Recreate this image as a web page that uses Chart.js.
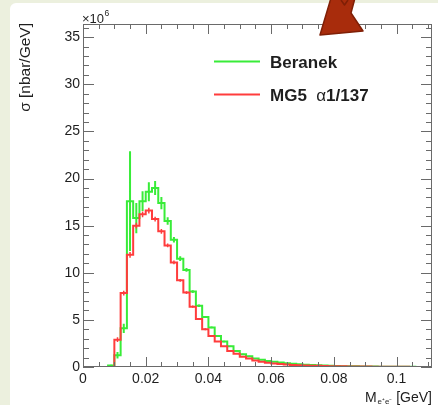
<!DOCTYPE html>
<html>
<head>
<meta charset="utf-8">
<script src="https://cdn.jsdelivr.net/npm/chart.js@4.4.1/dist/chart.umd.min.js"></script>
<style>
  html, body { margin: 0; padding: 0; background: #ecf0de; }
  #wrap { position: relative; width: 438px; height: 405px; overflow: hidden; }
  #sheet { position: absolute; left: 10px; top: 3px; right: 0; bottom: 0; background: #fff; border-top-left-radius: 6px; }
  #plot { position: absolute; left: 0; top: 0; }
</style>
</head>
<body>
<div id="wrap">
  <div id="sheet"></div>
  <canvas id="plot" width="438" height="405"></canvas>
</div>
<script>
// M(e+e-) spectrum, 0.002 GeV bins from 0, sigma in units of 1e6 nbar/GeV
const binWidth = 0.002;

const beranek = [
  0, 0, 0, 0, 0.15, 1.25, 4.1, 17.6, 15.8, 17.6,
  18.6, 19.0, 17.4, 15.5, 13.5, 11.5, 10.3, 8.0, 6.5, 5.3,
  4.2, 3.3, 2.7, 2.2, 1.7, 1.35, 1.15, 0.9, 0.77, 0.65,
  0.55, 0.47, 0.4, 0.34, 0.29, 0.25, 0.21, 0.18, 0.15, 0.13,
  0.11, 0.09, 0.08, 0.07, 0.06, 0.05, 0.04, 0.035, 0.03, 0.025,
  0.02, 0.018, 0.015, 0.012, 0.01, 0.008
];
const beranekErr = [
  0, 0, 0, 0, 0.1, 0.35, 0.5, 5.3, 1.6, 1.05,
  1.0, 0.75, 0.65, 0.4, 0.3, 0.25, 0.2, 0.15, 0.12, 0.1,
  0.1, 0.08, 0.08, 0.06, 0.05, 0.05, 0.04, 0.04, 0.03, 0.03
];

const mg5 = [
  0, 0, 0, 0, 0, 2.9, 7.85, 11.9, 15.0, 16.2,
  16.6, 15.7, 14.4, 12.9, 11.1, 9.2, 7.9, 6.4, 5.1, 4.0,
  3.3, 2.7, 2.2, 1.7, 1.4, 1.1, 0.9, 0.7, 0.55, 0.45,
  0.38, 0.32, 0.27, 0.22, 0.19, 0.16, 0.14, 0.12, 0.1, 0.09,
  0.08, 0.07, 0.06, 0.05, 0.045, 0.04, 0.035, 0.03, 0.03, 0.025,
  0.02, 0.015, 0.012, 0.01, 0.008, 0.006
];
const mg5Err = [
  0, 0, 0, 0, 0, 0.25, 0.25, 0.3, 0.3, 0.3,
  0.3, 0.25, 0.25, 0.2, 0.2, 0.15, 0.15, 0.12, 0.1, 0.1
];

const xTickLabels = ['0', '0.02', '0.04', '0.06', '0.08', '0.1'];
const yTickLabels = ['0', '5', '10', '15', '20', '25', '30', '35'];

const xMax = 0.1113;
const yMax = 36.4;
const FONT = '"Liberation Sans", Arial, Helvetica, sans-serif';
const GREEN = '#38ec38';
const RED = '#ff3c3c';

// step outline: one point per left bin edge, plus the closing right edge
function histPoints(vals) {
  const pts = vals.map((v, i) => ({ x: i * binWidth, y: v }));
  pts.push({ x: vals.length * binWidth, y: vals[vals.length - 1] });
  return pts;
}

// vertical error bars at bin centres, separated by gaps
function errPoints(vals, errs) {
  const pts = [];
  errs.forEach((e, i) => {
    if (!e) return;
    const c = (i + 0.5) * binWidth;
    pts.push({ x: c, y: Math.max(0, vals[i] - e) }, { x: c, y: vals[i] + e }, { x: c, y: null });
  });
  return pts;
}

const rootFrame = {
  id: 'rootFrame',
  afterDatasetsDraw(chart) {
    const { ctx, chartArea: a, scales } = chart;
    const xs = scales.x, ys = scales.y;
    ctx.save();

    // frame and inward ticks on all four sides
    ctx.strokeStyle = '#6a6a6a';
    ctx.lineWidth = 1;
    ctx.strokeRect(a.left + 0.5, a.top + 0.5, a.right - a.left - 1, a.bottom - a.top - 1);
    ctx.beginPath();
    for (let k = 0; k * 0.005 <= xMax; k++) {
      const px = Math.round(xs.getPixelForValue(k * 0.005)) + 0.5;
      const len = k % 4 === 0 ? 10 : 5;
      ctx.moveTo(px, a.bottom); ctx.lineTo(px, a.bottom - len);
      ctx.moveTo(px, a.top); ctx.lineTo(px, a.top + len);
    }
    for (let k = 0; k <= yMax; k++) {
      const py = Math.round(ys.getPixelForValue(k)) + 0.5;
      const len = k % 5 === 0 ? 11 : 6;
      ctx.moveTo(a.left, py); ctx.lineTo(a.left + len, py);
      ctx.moveTo(a.right, py); ctx.lineTo(a.right - len, py);
    }
    ctx.stroke();

    ctx.fillStyle = '#1e1e1e';
    ctx.textAlign = 'left';
    ctx.textBaseline = 'alphabetic';

    // exponent above the y axis
    ctx.font = '13px ' + FONT;
    ctx.fillText('\u00d710', a.left - 1, 23);
    const w10 = ctx.measureText('\u00d710').width;
    ctx.font = '8.5px ' + FONT;
    ctx.fillText('6', a.left - 1 + w10 + 0.5, 16);

    // y title, top aligned
    ctx.save();
    ctx.translate(30, a.top - 1);
    ctx.rotate(-Math.PI / 2);
    ctx.textAlign = 'right';
    ctx.font = '15.5px ' + FONT;
    ctx.fillText('\u03c3 [nbar/GeV]', 0, 0);
    ctx.restore();

    // x title, right aligned
    ctx.font = '14px ' + FONT;
    ctx.fillText('M', 365, 401.5);
    ctx.font = '8px ' + FONT;
    ctx.fillText('e\u207ae\u207b', 377.5, 404);
    ctx.font = '14px ' + FONT;
    ctx.textAlign = 'right';
    ctx.fillText('[GeV]', a.right, 401.5);
    ctx.textAlign = 'left';

    // legend
    const entries = [
      { color: GREEN, y: 61.5, base: 68, parts: [['bold ', 'Beranek']] },
      { color: RED, y: 94.5, base: 101, parts: [['bold ', 'MG5  '], ['', '\u03b1'], ['bold ', '1/137']] }
    ];
    entries.forEach(en => {
      ctx.strokeStyle = en.color;
      ctx.lineWidth = 2;
      ctx.beginPath();
      ctx.moveTo(214, en.y); ctx.lineTo(260, en.y);
      ctx.stroke();
      let tx = 270;
      en.parts.forEach(([w, t]) => {
        ctx.font = w + '17px ' + FONT;
        ctx.fillText(t, tx, en.base);
        tx += ctx.measureText(t).width;
      });
    });

    // pointer arrow overlapping the top of the frame
    ctx.fillStyle = '#a82c0c';
    ctx.strokeStyle = '#7f1f06';
    ctx.lineWidth = 1.5;
    ctx.lineJoin = 'round';
    ctx.beginPath();
    ctx.moveTo(331, -2);
    ctx.lineTo(320, 35);
    ctx.lineTo(363, 31);
    ctx.lineTo(351, 13);
    ctx.lineTo(355, -2);
    ctx.closePath();
    ctx.fill();
    ctx.stroke();
    ctx.beginPath();
    ctx.moveTo(341, 0); ctx.lineTo(344.5, 5); ctx.lineTo(348, 0);
    ctx.stroke();

    ctx.restore();
  }
};

const ctx = document.getElementById('plot').getContext('2d');
const chart = new Chart(ctx, {
  type: 'line',
  data: {
    datasets: [
      {
        label: 'MG5 \u03b11/137',
        data: histPoints(mg5),
        borderColor: RED,
        borderWidth: 2,
        stepped: true,
        pointRadius: 0,
        fill: false,
        order: 0
      },
      {
        label: 'MG5 errors',
        data: errPoints(mg5, mg5Err),
        borderColor: RED,
        borderWidth: 1.5,
        pointRadius: 0,
        spanGaps: false,
        order: 0
      },
      {
        label: 'Beranek',
        data: histPoints(beranek),
        borderColor: GREEN,
        borderWidth: 2,
        stepped: true,
        pointRadius: 0,
        fill: false,
        order: 1
      },
      {
        label: 'Beranek errors',
        data: errPoints(beranek, beranekErr),
        borderColor: GREEN,
        borderWidth: 2,
        pointRadius: 0,
        spanGaps: false,
        order: 1
      }
    ]
  },
  options: {
    responsive: false,
    animation: false,
    parsing: true,
    layout: { padding: { top: 24, right: 6, left: 0, bottom: 0 } },
    plugins: { legend: { display: false }, tooltip: { enabled: false } },
    scales: {
      x: {
        type: 'linear',
        min: 0,
        max: xMax,
        afterFit: s => { s.height = 38; },
        grid: { drawOnChartArea: false, drawTicks: false },
        border: { display: false },
        ticks: {
          stepSize: 0.02,
          includeBounds: false,
          maxRotation: 0,
          autoSkip: false,
          padding: 4,
          color: '#1e1e1e',
          font: { family: FONT, size: 14 },
          callback: (v) => xTickLabels[Math.round(v / 0.02)]
        }
      },
      y: {
        type: 'linear',
        min: 0,
        max: yMax,
        afterFit: s => { s.width = 83; },
        grid: { drawOnChartArea: false, drawTicks: false },
        border: { display: false },
        ticks: {
          stepSize: 5,
          includeBounds: false,
          autoSkip: false,
          padding: 3,
          color: '#1e1e1e',
          font: { family: FONT, size: 14 },
          callback: (v) => yTickLabels[Math.round(v / 5)]
        }
      }
    }
  },
  plugins: [rootFrame]
});
</script>
</body>
</html>
